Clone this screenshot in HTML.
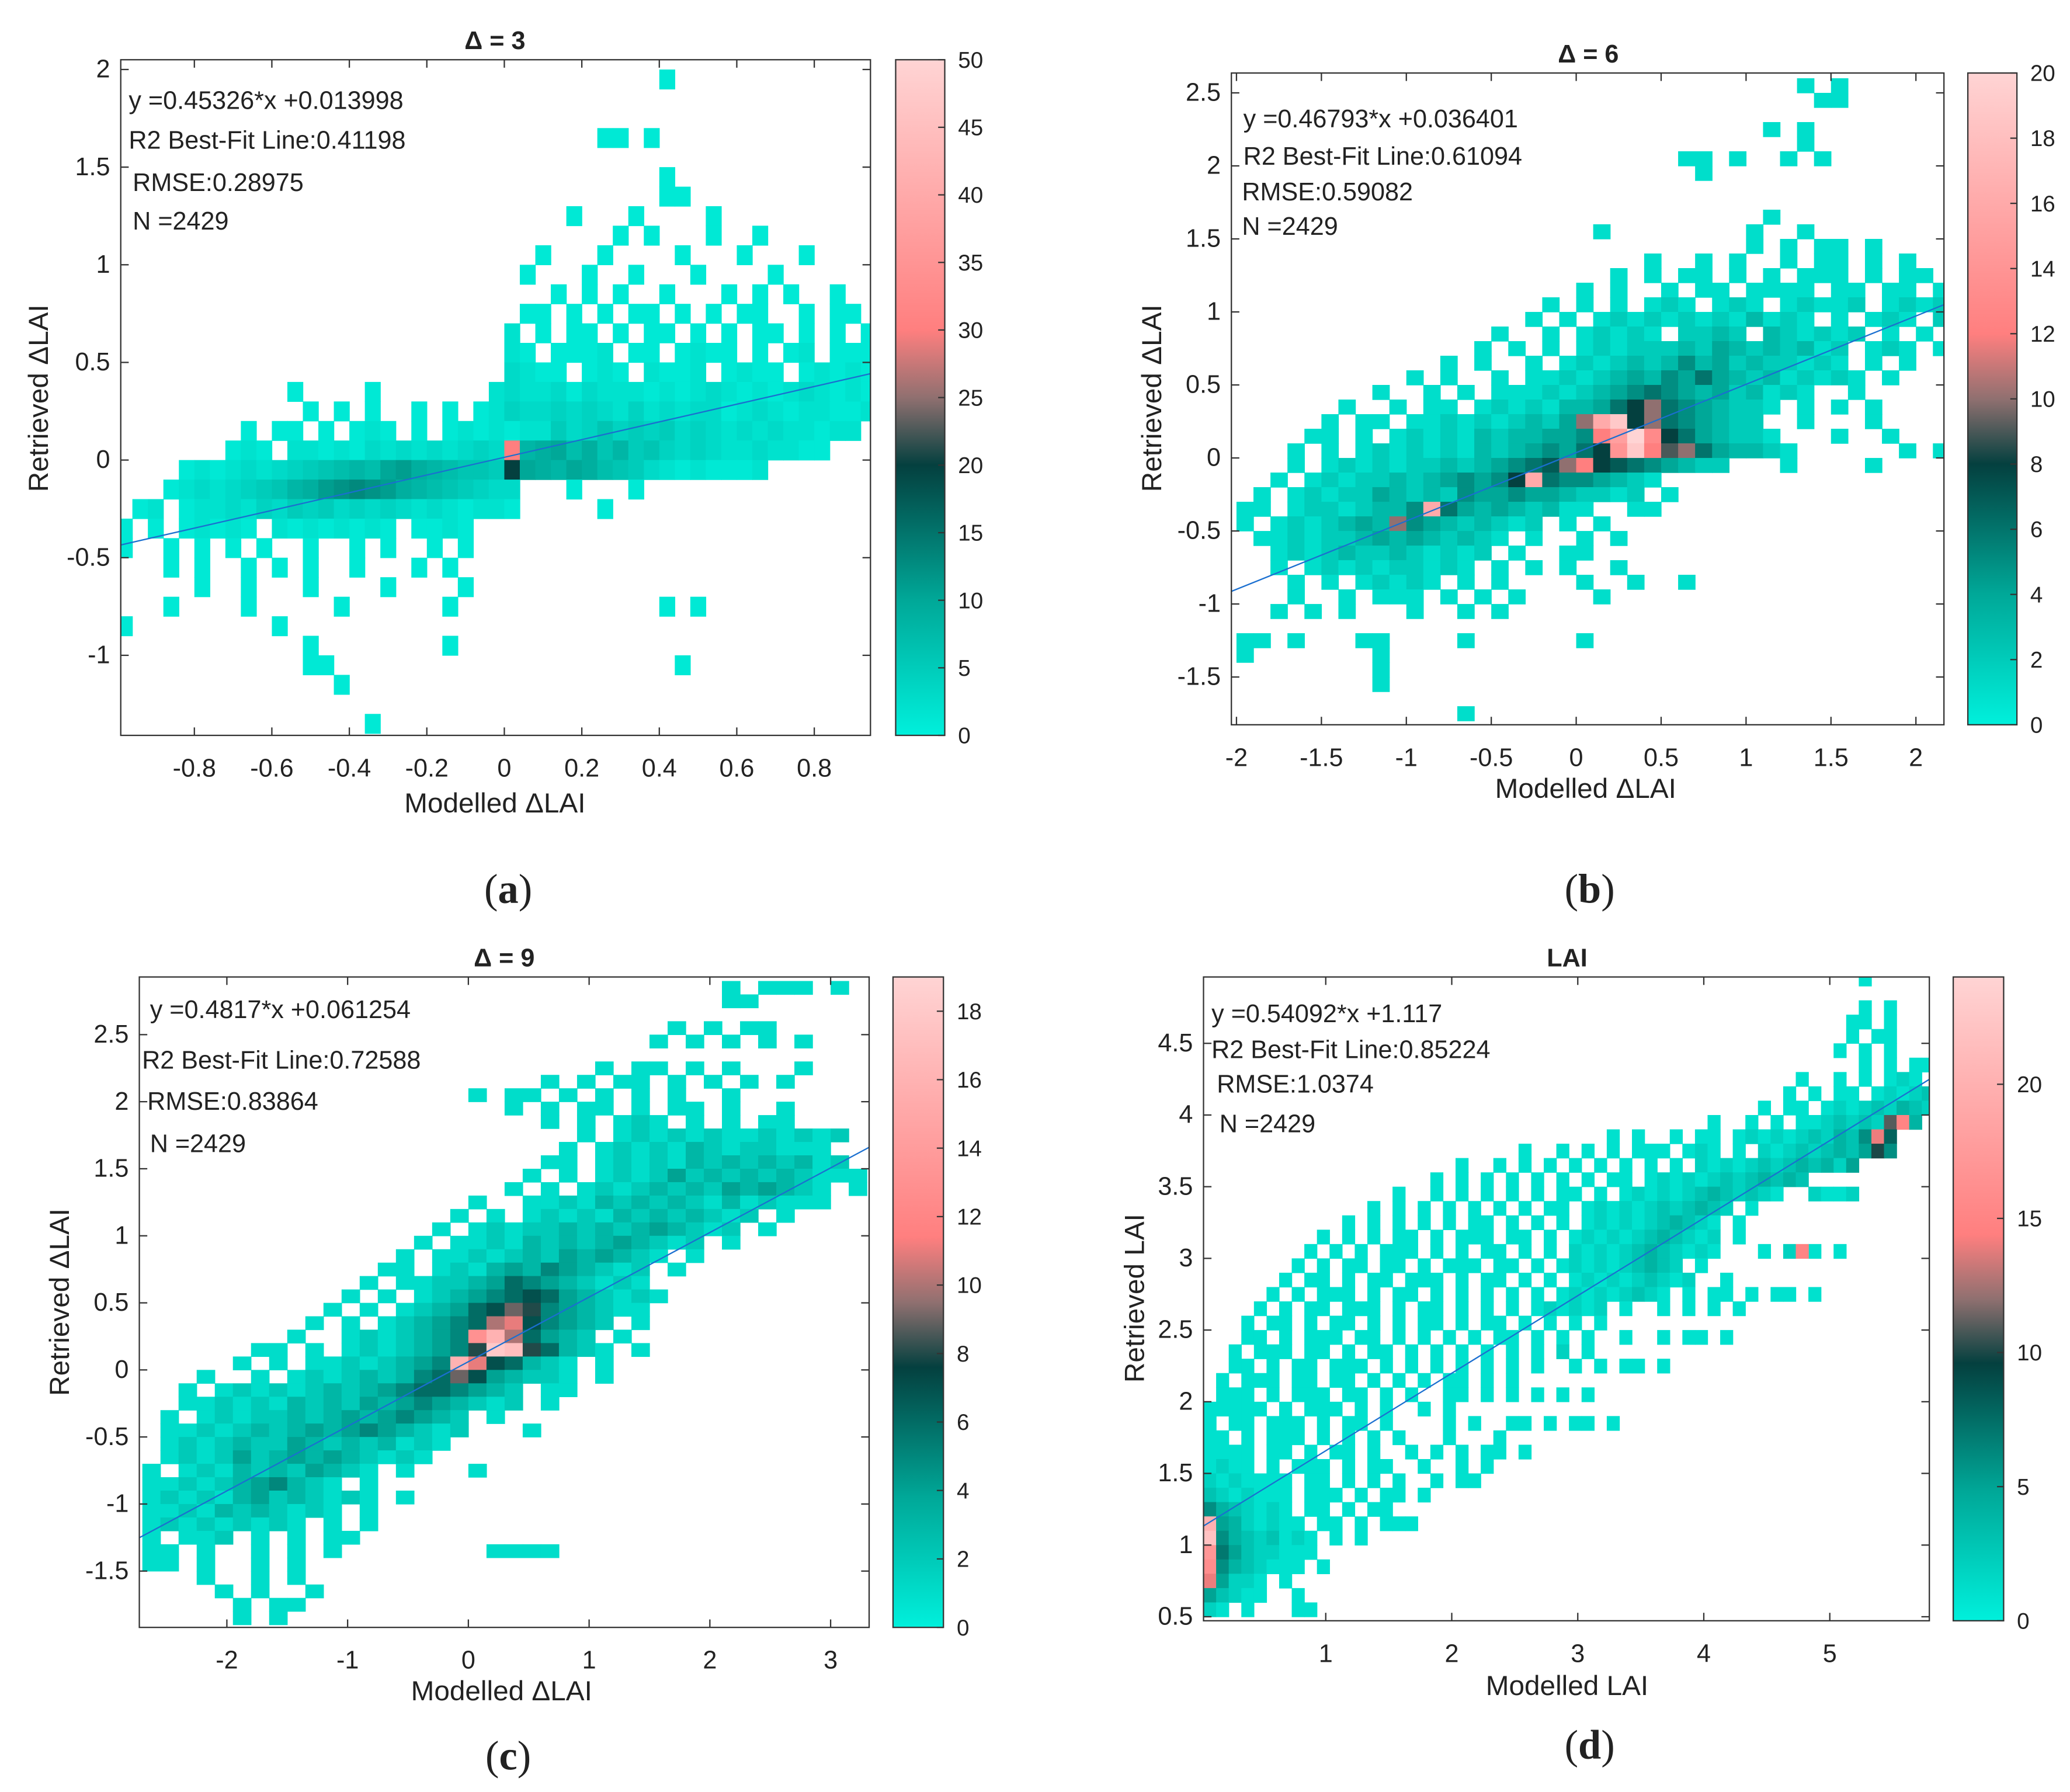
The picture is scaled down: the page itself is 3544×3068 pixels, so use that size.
<!DOCTYPE html>
<html><head><meta charset="utf-8"><style>
html,body{margin:0;padding:0;background:#fff;}
svg{display:block;}
text{font-family:"Liberation Sans",sans-serif;fill:#222;}
</style></head><body>
<svg id="fig" width="3544" height="3068" viewBox="0 0 1560 1350" preserveAspectRatio="none" xmlns="http://www.w3.org/2000/svg">
<defs>
<linearGradient id="cmap" x1="0" y1="1" x2="0" y2="0">
<stop offset="0" stop-color="#00f0dc"/><stop offset="0.2" stop-color="#00a898"/>
<stop offset="0.4" stop-color="#04403f"/><stop offset="0.5" stop-color="#907070"/>
<stop offset="0.6" stop-color="#ff7f7f"/><stop offset="1" stop-color="#ffd4d4"/>
</linearGradient>
</defs>
</svg>
<script>
// ---- data: rows of [rowBottomY, startColumn, cells(base36 count, '.' empty)] ----
const aRows=[[1.9,35,"1"],[1.6,31,"11.1"],[1.4,35,"1"],[1.3,35,"11"],[1.2,29,"1...1....1"],[1.1,32,"1.1...1..1"],[1.0,27,"1...1....1...1...1"],[0.9,26,"1...1..1...1....1"],[0.8,28,"1.1.1..1...1.1.1..1"],[0.7,26,"11.1.1.11.1.1.11..1.11"],[0.6,25,"2.1.11.1.11.1.1.11.1.1.1"],[0.5,25,"21.1112.11.1211.1.12.1111"],[0.4,25,"3211.121.2112.1211.121212"],[0.3,11,"1....1.......23223132221212321212321211"],[0.2,12,"1.1.1..1.1.12433434324232331232122112"],[0.1,8,"1.11.1.121.1.121212253464545343232322122"],[0.0,7,"121.22121323232343u89a79685643432232211"],[-0.1,4,"1212323456787ab987665ka98a976532121112"],[-0.2,3,"1232345689bcdcb98765433...1...1"],[-0.3,1,"12.1223243545343432321221.....1"],[-0.4,0,"1.1.12121.21212121.1121"],[-0.5,0,"1..1.1.1.1..1..1.1..1.1"],[-0.6,3,"1.1..1.1.1..1...1.1"],[-0.7,5,"1..1...1....1....1"],[-0.8,3,"1....1.....1......1.............1.1"],[-0.9,0,"1.........1"],[-1.0,12,"1........1"],[-1.1,12,"11......................1"],[-1.2,14,"1"],[-1.4,16,"1"]];
const bRows=[[2.5,33,"1.1"],[2.4,34,"11"],[2.2,31,"1.1"],[2.1,33,"1"],[2.0,26,"11.1..1.1"],[1.9,27,"1"],[1.6,31,"1"],[1.5,21,"1........1..1"],[1.4,30,"1.1.11.1"],[1.3,24,"1..1.1..1.11.1.1"],[1.2,22,"1.1.11.1.1.111.1.11.1"],[1.1,20,"1.1..1.11.1111.11.11.11"],[1.0,18,"1.1.1.121.121.12112.12121"],[0.9,17,"1.1.1212121213121.1.121.2"],[0.8,15,"1..1.12121.2232.321212.1.1"],[0.7,14,"1.1.1.1212223243232312.121.1"],[0.6,12,"1.1..1.12123235342322121.1.1"],[0.5,10,"1.1..1.11212343546432312121.1"],[0.4,8,"1..1.1.1112123456543423121..1"],[0.3,6,"1..1.11.1212133468a6543221.1.1.1"],[0.2,5,"1.11.1121212324agj8a654322..1...1"],[0.1,4,"11.1.121213233445cfkd8643221...1..1"],[0.0,3,"1.1.121212132345468ejc9a643321......1.1"],[-0.1,3,"1.12121223234567ac87654322...1....1"],[-0.2,2,"1.1212232345458g6554321"],[-0.3,1,"1.121224323254454432212.1"],[-0.4,0,"11.12212335g643432311..11"],[-0.5,0,"1.1212343a54323212.1.1"],[-0.6,1,"112122343432321.1..1.1"],[-0.7,2,"1212322321212.1..11"],[-0.8,2,"1.1212122121.1.1.1..1"],[-0.9,3,"1.1.12121.1.1....1..1..1"],[-1.0,3,"1..1.111.1.1.1....1"],[-1.1,2,"1.1.1...1..1.1"],[-1.3,0,"11.1...11....1......1"],[-1.4,0,"1.......1"],[-1.5,8,"1"],[-1.6,8,"1"],[-1.8,13,"1"]];
const cRows=[[2.8,32,"1.111.1"],[2.7,32,"11"],[2.5,29,"1.1.11"],[2.4,28,"1.1.1.1.1"],[2.2,25,"1.11.1.1...1"],[2.1,22,"1.1.11.1.1.1.1"],[2.0,18,"1.11.1.1.1.1..1"],[1.9,20,"1.1.11.1.11.1..1"],[1.8,22,"1.1.121.1.1.11"],[1.7,24,"1.1212121121212"],[1.6,23,"1.1212132122111"],[1.5,22,"11.12121323232312"],[1.4,21,"1.1.121242323232111"],[1.3,20,"1.1.12123232434321.1"],[1.2,18,"1..11213232321312111"],[1.1,17,"1.1.1212132323212.1"],[1.0,16,"1.121223232343212.1"],[0.9,15,"1.11213232343212.1"],[0.8,14,"1.1121232434321.1"],[0.7,13,"11.121343543212.1"],[0.6,12,"1.11223465432121"],[0.5,11,"1.1.12345676432121"],[0.4,10,"1.1.12346798543211"],[0.3,9,"1.1.123456ab75432.1"],[0.2,8,"1..1212345dga6432.1"],[0.1,6,"11.1.12123458ih86321.1"],[0.0,5,"1.1.11212345gb76321.1"],[-0.1,3,"1..1.1212323569743221.1"],[-0.2,2,"1.12121232345665432.11"],[-0.3,2,"1121213232434543212.1"],[-0.4,1,"1.121223234345432.1"],[-0.5,1,"11212323434543212...1"],[-0.6,1,"1212322432323121"],[-0.7,1,"121242343432121"],[-0.8,0,"1.12132324321.1...1"],[-0.9,0,"11212345321.1"],[-1.0,0,"1212134232121.1"],[-1.1,0,"11213232121.1"],[-1.2,0,"121212121.1.1"],[-1.3,0,"1.112.1.1.11"],[-1.4,0,"11.1..1.1.1........1111"],[-1.5,0,"11.1..1.1"],[-1.6,3,"1..1.1"],[-1.7,4,"1.1..1"],[-1.8,5,"1.11"],[-1.9,5,"1.1"]];
const dRows=[[4.9,52,"1"],[4.7,52,"1.1"],[4.6,51,"11.1"],[4.5,51,"1.11"],[4.4,50,"1.1.1"],[4.3,52,"1.1.11"],[4.2,47,"1..1.1.121"],[4.1,46,"1.1.11.12123"],[4.0,44,"1.11.121232432"],[3.9,40,"1..1.1.1123232bf4"],[3.8,32,"1.1..1.11.12121232436e8"],[3.7,25,"1..1.1.1.111.121.1.212323435a6"],[3.6,20,"1..1.1.1.1.1.1.1.1.2121232343425"],[3.5,18,"1.1.1.1.1.1.1.11.1212123234343"],[3.4,15,"1..1.1.1.1.1.11.1.1212123432321"],[3.3,13,"1.1.1.1.1.1.1.11.121212323432.1"],[3.2,11,"1.1.1.1.1.11.1.1.1.12121234321.1"],[3.1,9,"1.1.1.11.1.111.11.1.121212343212.1"],[3.0,8,"1.1.1.111.1.1.11.1.1.212123432121"],[2.9,7,"1.1.11.11.1.111.11.1.1212123432.1"],[2.8,6,"1.11.1.11.111.1.11.1.1.1212123212..1"],[2.7,5,"1.1.111.1.11.1.1.1.1.1.121212321"],[2.6,4,"1.1.11.111.1.11.1.1.1.121212.1"],[2.5,3,"1.11.1.11.1.1.11.1.11.1.1.1.1"],[2.4,3,"11.1.111.11.1.1.1.1.11.1.1.1"],[2.3,2,"1.111.11.1.11.1.1.1.1.1.1.2.1"],[2.2,2,"11.1.11.111.1.1.1.1.1.1.1"],[2.1,1,"1.111.11.11.1.1.1.11.1.1"],[2.0,1,"111.1.111.11.1.1..11"],[1.9,0,"11111.1.111.1.1..1.1"],[1.8,0,"1.11.111.1.11.1....1.1..1"],[1.7,0,"11.1.111.1.1.1.1...1...1"],[1.6,0,"1111.11.1.11.1..1.1...1"],[1.5,0,"1211.1.111.1.11..1..1.1"],[1.4,0,"2121111.11.1.1.1..1.11"],[1.3,0,"3212111.111.1.11.1"],[1.2,0,"6432121.11.1.11"],[1.1,0,"k5421211.11.1.111"],[1.0,0,"m64323121.1.1"],[0.9,0,"h75322111"],[0.8,0,"g6432111.1"],[0.7,0,"e5221.1"],[0.6,0,"53211..1"],[0.5,0,"21.1...11"],[2.7,38,"1.11.1.11.1"],[2.6,36,"1.1.1.1"],[2.4,33,"1..1.11.1"],[2.2,29,"1.1.11.1"],[2.0,22,"1.1.1.1.1"],[1.8,25,"1.1.11.1"],[1.6,20,"1.11.1"],[3.0,44,"1.2.1.1"],[3.4,48,"2112"],[3.0,47,"f"]];
// fit lines [slope, intercept]
const aFit=[0.45326,0.013998], bFit=[0.46793,0.036401], cFit=[0.4817,0.061254], dFit=[0.54092,1.117];
const aXTicks=[-0.8,-0.6,-0.4,-0.2,0,0.2,0.4,0.6,0.8], aYTicks=[-1,-0.5,0,0.5,1,1.5,2], aCTicks=[0,5,10,15,20,25,30,35,40,45,50];
const bXTicks=[-2,-1.5,-1,-0.5,0,0.5,1,1.5,2], bYTicks=[-1.5,-1,-0.5,0,0.5,1,1.5,2,2.5], bCTicks=[0,2,4,6,8,10,12,14,16,18,20];
const cXTicks=[-2,-1,0,1,2,3], cYTicks=[-1.5,-1,-0.5,0,0.5,1,1.5,2,2.5], cCTicks=[0,2,4,6,8,10,12,14,16,18];
const dXTicks=[1,2,3,4,5], dYTicks=[0.5,1,1.5,2,2.5,3,3.5,4,4.5], dCTicks=[0,5,10,15,20];
const aText=["y =0.45326*x +0.013998","R2 Best-Fit Line:0.41198","RMSE:0.28975","N =2429"];
const bText=["y =0.46793*x +0.036401","R2 Best-Fit Line:0.61094","RMSE:0.59082","N =2429"];
const cText=["y =0.4817*x +0.061254","R2 Best-Fit Line:0.72588","RMSE:0.83864","N =2429"];
const dText=["y =0.54092*x +1.117","R2 Best-Fit Line:0.85224","RMSE:1.0374","N =2429"];

const NS="http://www.w3.org/2000/svg";
const svg=document.getElementById('fig');
function mk(tag,attrs,parent){const e=document.createElementNS(NS,tag);for(const k in attrs)e.setAttribute(k,attrs[k]);(parent||svg).appendChild(e);return e;}
const stops=[[0,[0,240,220]],[0.2,[0,168,152]],[0.4,[4,64,63]],[0.5,[144,112,112]],[0.6,[255,127,127]],[1,[255,212,212]]];
function cmap(t){t=Math.max(0,Math.min(1,t));for(let i=1;i<stops.length;i++){if(t<=stops[i][0]){const a=stops[i-1],b=stops[i],f=(t-a[0])/(b[0]-a[0]);const c=a[1].map((v,j)=>Math.round(v+(b[1][j]-v)*f));return `rgb(${c[0]},${c[1]},${c[2]})`;}}return 'rgb(255,212,212)';}

const panels=[
 {id:'a',rows:aRows,fit:aFit,xt:aXTicks,yt:aYTicks,ct:aCTicks,txt:aText,title:'\u0394 = 3',xl:'Modelled \u0394LAI',yl:'Retrieved \u0394LAI',
  L:91,R:656,T:45,B:554,x0:-0.99,x1:0.945,y0:-1.41,y1:2.05,cx0:-1.0,dx:0.04,dy:0.1,cbL:675,cbR:712,vmax:50,
  tx:[97,97,100,100],ty:[82,112,144,173],ttl:[373,37],xlp:[373,612],ylp:[36,300],cap:[383,680],lab:'a'},
 {id:'b',rows:bRows,fit:bFit,xt:bXTicks,yt:bYTicks,ct:bCTicks,txt:bText,title:'\u0394 = 6',xl:'Modelled \u0394LAI',yl:'Retrieved \u0394LAI',
  L:928,R:1465,T:55,B:546,x0:-2.03,x1:2.165,y0:-1.827,y1:2.636,cx0:-2.0,dx:0.1,dy:0.1,cbL:1483,cbR:1520,vmax:20,
  tx:[937,937,936,936],ty:[96,124,151,177],ttl:[1197,47],xlp:[1195,601],ylp:[875,300],cap:[1198,680],lab:'b'},
 {id:'c',rows:cRows,fit:cFit,xt:cXTicks,yt:cYTicks,ct:cCTicks,txt:cText,title:'\u0394 = 9',xl:'Modelled \u0394LAI',yl:'Retrieved \u0394LAI',
  L:105,R:655,T:736,B:1226,x0:-2.725,x1:3.319,y0:-1.92,y1:2.93,cx0:-2.7,dx:0.15,dy:0.1,cbL:673,cbR:711,vmax:19,
  tx:[113,107,111,113],ty:[767,805,836,868],ttl:[380,728],xlp:[378,1281],ylp:[52,981],cap:[383,1333],lab:'c'},
 {id:'d',rows:dRows,fit:dFit,xt:dXTicks,yt:dYTicks,ct:dCTicks,txt:dText,title:'LAI',xl:'Modelled LAI',yl:'Retrieved LAI',
  L:907,R:1454,T:736,B:1221,x0:0.03,x1:5.79,y0:0.472,y1:4.963,cx0:0.03,dx:0.1,dy:0.1,cbL:1472,cbR:1510,vmax:24,
  tx:[913,913,917,919],ty:[770,797,823,853],ttl:[1181,728],xlp:[1181,1277],ylp:[862,978],cap:[1198,1325],lab:'d'}
];

panels.forEach(p=>{
 const g=mk('g',{});
 
 
 const X=v=>p.L+(v-p.x0)/(p.x1-p.x0)*(p.R-p.L);
 const Y=v=>p.B-(v-p.y0)/(p.y1-p.y0)*(p.B-p.T);
 const cp=mk('clipPath',{id:'clip'+p.id},g);
 mk('rect',{x:p.L,y:p.T,width:p.R-p.L,height:p.B-p.T},cp);
 const cells=mk('g',{'clip-path':`url(#clip${p.id})`},g);
 
 
 p.rows.forEach(r=>{
  const [yb,c0,s]=r;
  for(let i=0;i<s.length;i++){
   if(s[i]==='.')continue;
   const n=parseInt(s[i],36);
   const xa=p.cx0+(c0+i)*p.dx;
   const rc=mk('rect',{x:X(xa).toFixed(2),y:Y(yb+p.dy).toFixed(2),width:(X(xa+p.dx)-X(xa)+0.3).toFixed(2),height:(Y(yb)-Y(yb+p.dy)+0.3).toFixed(2),fill:cmap(n/p.vmax)},cells);
   
   
  }
 });
 const ln=mk('line',{x1:X(p.x0),y1:Y(p.fit[0]*p.x0+p.fit[1]),x2:X(p.x1),y2:Y(p.fit[0]*p.x1+p.fit[1]),stroke:'#1a6fd0','stroke-width':1,'clip-path':`url(#clip${p.id})`},g);
 
 
 const box=mk('rect',{x:p.L,y:p.T,width:p.R-p.L,height:p.B-p.T,fill:'none',stroke:'#333','stroke-width':1},g);
 
 
 p.xt.forEach(v=>{
  const x=X(v);
  mk('line',{x1:x,y1:p.B,x2:x,y2:p.B-6,stroke:'#333'},g);
  mk('line',{x1:x,y1:p.T,x2:x,y2:p.T+6,stroke:'#333'},g);
  const t=mk('text',{x:x,y:p.B+31,'text-anchor':'middle','font-size':19},g);t.textContent=String(v);
  
  
 });
 p.yt.forEach(v=>{
  const y=Y(v);
  mk('line',{x1:p.L,y1:y,x2:p.L+6,y2:y,stroke:'#333'},g);
  mk('line',{x1:p.R,y1:y,x2:p.R-6,y2:y,stroke:'#333'},g);
  const t=mk('text',{x:p.L-8,y:y+6,'text-anchor':'end','font-size':19},g);t.textContent=String(v);
  
  
 });
 const cb=mk('rect',{x:p.cbL,y:p.T,width:p.cbR-p.cbL,height:p.B-p.T,fill:'url(#cmap)',stroke:'#333','stroke-width':1},g);
 
 
 p.ct.forEach(v=>{
  const y=p.B-v/p.vmax*(p.B-p.T);
  mk('line',{x1:p.cbR,y1:y,x2:p.cbR-5,y2:y,stroke:'#333'},g);
  const t=mk('text',{x:p.cbR+10,y:y+6,'font-size':17},g);t.textContent=String(v);
  
  
 });
 p.txt.forEach((s,i)=>{
  const t=mk('text',{x:p.tx[i],y:p.ty[i],'font-size':19},g);t.textContent=s;
  
  
 });
 const tt=mk('text',{x:p.ttl[0],y:p.ttl[1],'text-anchor':'middle','font-size':19,'font-weight':'bold'},g);tt.textContent=p.title;
 
 
 const xl=mk('text',{x:p.xlp[0],y:p.xlp[1],'text-anchor':'middle','font-size':21},g);xl.textContent=p.xl;
 
 
 const yl=mk('text',{x:p.ylp[0],y:p.ylp[1],'text-anchor':'middle','font-size':21,transform:`rotate(-90 ${p.ylp[0]} ${p.ylp[1]})`},g);yl.textContent=p.yl;
 
 
 const cap=mk('text',{x:p.cap[0],y:p.cap[1],'text-anchor':'middle','font-size':31,style:'font-family:"Liberation Serif",serif'},g);
 
 
 const s1=mk('tspan',{},cap);s1.textContent='(';
 const s2=mk('tspan',{'font-weight':'bold'},cap);s2.textContent=p.lab;
 const s3=mk('tspan',{},cap);s3.textContent=')';
});
</script>
</body></html>
